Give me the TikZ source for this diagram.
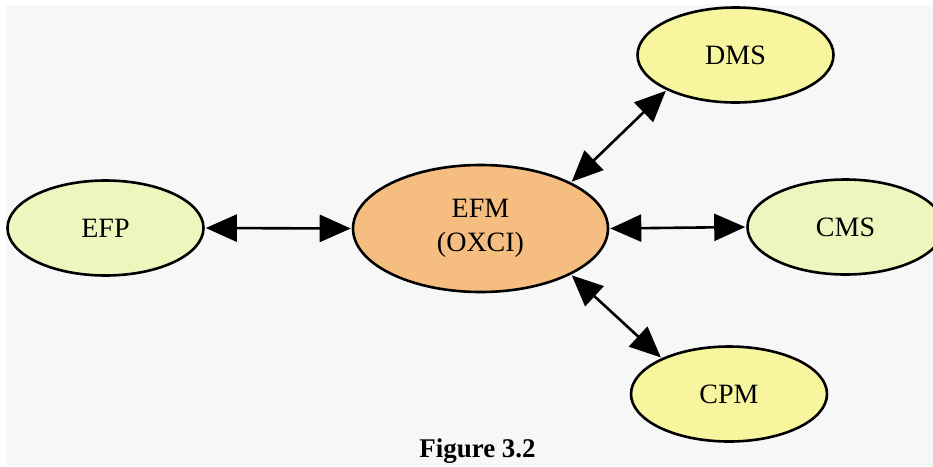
\documentclass[tikz,border=0pt]{standalone}
\usepackage{fontspec}
\setmainfont{Liberation Serif}
\usetikzlibrary{shapes.geometric,arrows.meta}
\definecolor{bggray}{HTML}{F7F7F7}
\definecolor{greenyel}{HTML}{EEF6BE}
\definecolor{yel}{HTML}{F7F59E}
\definecolor{orng}{HTML}{F5BE80}
\tikzset{
  ell/.style={ellipse, draw=black, line width=2.6pt, inner sep=0pt, font=\fontsize{28}{34}\selectfont, align=center},
  small/.style={ell, minimum width=196pt, minimum height=95pt},
  link/.style={line width=2.6pt, {Triangle[length=31pt,width=27pt]}-{Triangle[length=31pt,width=27pt]}, shorten <=1pt, shorten >=1pt},
}
\begin{document}
\begin{tikzpicture}[x=1pt,y=-1pt]
\useasboundingbox (0,0) rectangle (933,466);
\fill[white] (0,0) rectangle (933,466);
\fill[bggray] (6,5) rectangle (933,466);
\node[small, fill=greenyel] (efp) at (105.5,228) {EFP};
\node[ell, fill=orng, minimum width=255pt, minimum height=127pt] (efm) at (480.5,228.5) {EFM\\(OXCI)};
\node[small, fill=yel] (dms) at (735.5,55) {DMS};
\node[small, fill=greenyel] (cms) at (845.5,227) {CMS};
\node[small, fill=yel] (cpm) at (729,394) {CPM};
\node[font=\bfseries\fontsize{27}{30}\selectfont] (cap) at (477.5,451) {Figure 3.2};
\draw[link] (efp.east) -- (efm.west);
\draw[link] (efm.east) -- (cms.west);
\draw[link] (efm.27) -- (dms.207);
\draw[link] (efm.-27) -- (cpm.152);
\end{tikzpicture}
\end{document}
